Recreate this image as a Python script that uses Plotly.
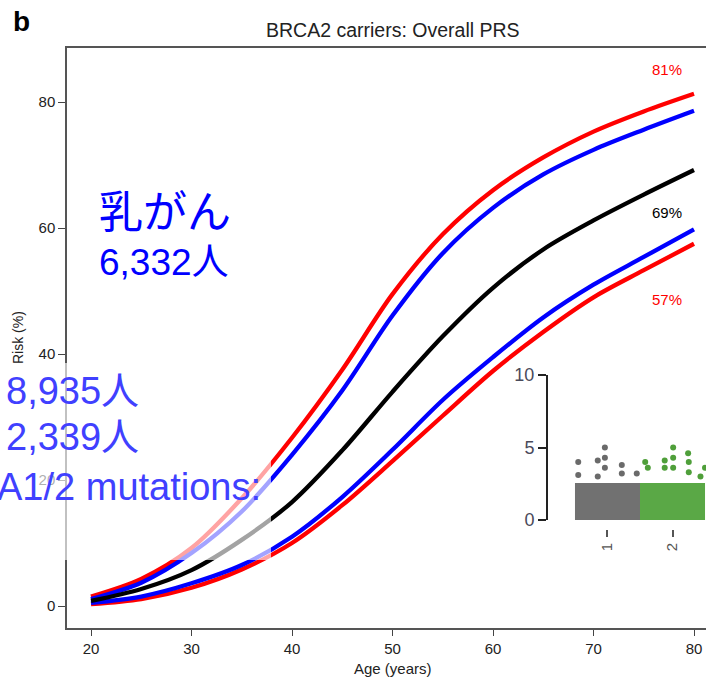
import plotly.graph_objects as go

# ---------------- data ----------------
ages = [20, 25, 30, 35, 40, 45, 50, 55, 60, 65, 70, 75, 80]
red_high = [1.5, 4.3, 9.2, 17.1, 26.7, 37.5, 49.5, 59.0, 66.0, 71.2, 75.3, 78.5, 81.3]
blue_high = [1.1, 3.7, 8.4, 15.0, 24.0, 34.2, 46.1, 56.0, 63.2, 68.5, 72.4, 75.6, 78.6]
black_mid = [0.8, 2.7, 5.7, 10.5, 16.5, 24.7, 34.0, 42.8, 50.5, 56.6, 61.2, 65.3, 69.2]
blue_low = [0.5, 1.5, 3.6, 6.5, 11.0, 17.3, 24.8, 32.7, 39.5, 45.8, 51.0, 55.4, 59.8]
red_low = [0.3, 1.1, 2.9, 5.8, 10.0, 16.0, 23.0, 30.2, 37.3, 43.5, 49.0, 53.3, 57.5]

end_labels = ["81%", "69%", "57%"]
end_label_x = [77.3, 77.3, 77.3]
end_label_y = [85.2, 62.4, 48.6]
end_label_colors = ["#ff0000", "#000000", "#ff0000"]

x_ticks = [20, 30, 40, 50, 60, 70, 80]
y_ticks = [0, 20, 40, 60, 80]

# inset (Manhattan-like) data
inset_chroms = [0.5, 1.5]
inset_chrom_labels = ["1", "2"]
inset_block_height = [2.55, 2.55]
inset_thresholds = [7.1, 5.0]
gray_pts_x = [0.05, 0.05, 0.35, 0.35, 0.46, 0.46, 0.46, 0.72, 0.72, 0.95]
gray_pts_y = [4.0, 3.1, 4.1, 3.0, 5.0, 4.3, 3.6, 3.8, 3.2, 3.2]
green_pts_x = [1.08, 1.12, 1.38, 1.38, 1.51, 1.51, 1.51, 1.74, 1.75, 1.75, 1.93, 2.0]
green_pts_y = [4.0, 3.6, 4.1, 3.6, 5.0, 4.3, 3.6, 4.6, 4.0, 3.3, 3.0, 3.6]

title_text = "BRCA2 carriers: Overall PRS"
overlay_texts = ["乳がん", "6,332人", "8,935人", "2,339人", "A1/2 mutations:"]

# ---------------- layout helpers ----------------
W, H = 706, 678
L, R, T, B = 67, 0, 48, 50
PW, PH = W - L - R, H - T - B


def px_x(px):
    return (px - L) / PW


def px_y(py):
    return (H - B - py) / PH


FONT = "Liberation Sans, Arial, Noto Sans CJK JP, sans-serif"

fig = go.Figure()

curves = [
    (red_high, "#ff0000"),
    (blue_high, "#0000ff"),
    (red_low, "#ff0000"),
    (blue_low, "#0000ff"),
    (black_mid, "#000000"),
]
for ys, col in curves:
    fig.add_trace(go.Scatter(x=ages, y=ys, mode="lines",
                             line=dict(color=col, width=4.3, shape="spline", smoothing=0.9),
                             showlegend=False, hoverinfo="skip"))

for t, x, y, c in zip(end_labels, end_label_x, end_label_y, end_label_colors):
    fig.add_annotation(x=x, y=y, text=t, showarrow=False, xref="x", yref="y",
                       font=dict(family=FONT, size=15, color=c))

# inset
fig.add_trace(go.Bar(x=inset_chroms, y=inset_block_height, width=1.0,
                     marker=dict(color=["#717171", "#5aa846"], line=dict(width=0)),
                     xaxis="x2", yaxis="y2", showlegend=False, hoverinfo="skip"))
fig.add_trace(go.Scatter(x=gray_pts_x, y=gray_pts_y, mode="markers",
                         marker=dict(color="#6a6a6a", size=6),
                         xaxis="x2", yaxis="y2", showlegend=False, hoverinfo="skip"))
fig.add_trace(go.Scatter(x=green_pts_x, y=green_pts_y, mode="markers",
                         marker=dict(color="#4f9f3a", size=6),
                         xaxis="x2", yaxis="y2", showlegend=False, hoverinfo="skip"))
for thr, dash in zip(inset_thresholds, ["dash", "dot"]):
    fig.add_shape(type="line", xref="x2 domain", yref="y2", x0=0.01, x1=1, y0=thr, y1=thr,
                  line=dict(color="#b0b0b0", width=2, dash=dash), layer="below")

# semi-transparent white overlay on lower-left part
fig.add_shape(type="rect", xref="paper", yref="paper",
              x0=px_x(-5), x1=px_x(271), y0=px_y(560), y1=px_y(363),
              fillcolor="rgba(255,255,255,0.64)", line=dict(width=0), layer="above")

# texts
fig.add_annotation(xref="paper", yref="paper", x=px_x(11), y=px_y(21), text="<b>b</b>",
                   showarrow=False, xanchor="left", yanchor="middle",
                   font=dict(family=FONT, size=28, color="#000000"))
fig.add_annotation(xref="paper", yref="paper", x=px_x(393), y=px_y(30), text=title_text,
                   showarrow=False, xanchor="center", yanchor="middle",
                   font=dict(family=FONT, size=19.5, color="#222222"))
fig.add_annotation(xref="paper", yref="paper", x=px_x(393), y=px_y(668), text="Age (years)",
                   showarrow=False, xanchor="center", yanchor="middle",
                   font=dict(family=FONT, size=15, color="#222222"))
fig.add_annotation(xref="paper", yref="paper", x=px_x(18), y=px_y(338), text="Risk (%)",
                   showarrow=False, xanchor="center", yanchor="middle", textangle=-90,
                   font=dict(family=FONT, size=14, color="#222222"))

ov_pos = [(97, 212, "left", 44, "#0000ff"),
          (97, 262, "left", 37, "#0000ff"),
          (141, 391, "right", 38, "#4040ff"),
          (141, 437, "right", 38, "#4040ff"),
          (263, 487, "right", 38, "#4040ff")]
for txt, (x, y, anc, sz, col) in zip(overlay_texts, ov_pos):
    fig.add_annotation(xref="paper", yref="paper", x=px_x(x), y=px_y(y), text=txt,
                       showarrow=False, xanchor=anc, yanchor="middle",
                       font=dict(family=FONT, size=sz, color=col))

fig.update_layout(
    width=W, height=H, margin=dict(l=L, r=R, t=T, b=B),
    paper_bgcolor="white", plot_bgcolor="white",
    xaxis=dict(range=[20 + (L - 91) / 10.05, 20 + (W - 91) / 10.05], tickvals=x_ticks,
               ticks="outside", ticklen=6, tickcolor="#444", showline=True, linecolor="#555",
               linewidth=1.5, mirror=True, showgrid=False, zeroline=False,
               tickfont=dict(family=FONT, size=15, color="#222")),
    yaxis=dict(range=[-(628 - 606) / 6.3, (606 - 48) / 6.3], tickvals=y_ticks,
               ticks="outside", ticklen=7, tickcolor="#444", showline=True, linecolor="#555",
               linewidth=1.5, showgrid=False, zeroline=False,
               tickfont=dict(family=FONT, size=15, color="#222")),
    xaxis2=dict(domain=[px_x(548), 1.0], range=[-0.415, 2.015], anchor="free",
                position=px_y(529), tickvals=inset_chroms, ticktext=inset_chrom_labels,
                ticks="outside", ticklen=7, tickwidth=2, tickcolor="#555", tickangle=-90,
                showline=False, showgrid=False, zeroline=False,
                tickfont=dict(family=FONT, size=15, color="#555")),
    yaxis2=dict(domain=[px_y(520), px_y(375)], range=[0, 10], anchor="x2",
                tickvals=[0, 5, 10], ticks="outside", ticklen=8, tickwidth=2, tickcolor="#222",
                showline=True, linecolor="#222", linewidth=2, showgrid=False, zeroline=False,
                tickfont=dict(family=FONT, size=18, color="#4a4a5a")),
)

fig.write_html("out.html", config={"displayModeBar": False},
               post_script="document.body.style.margin='0px';")
